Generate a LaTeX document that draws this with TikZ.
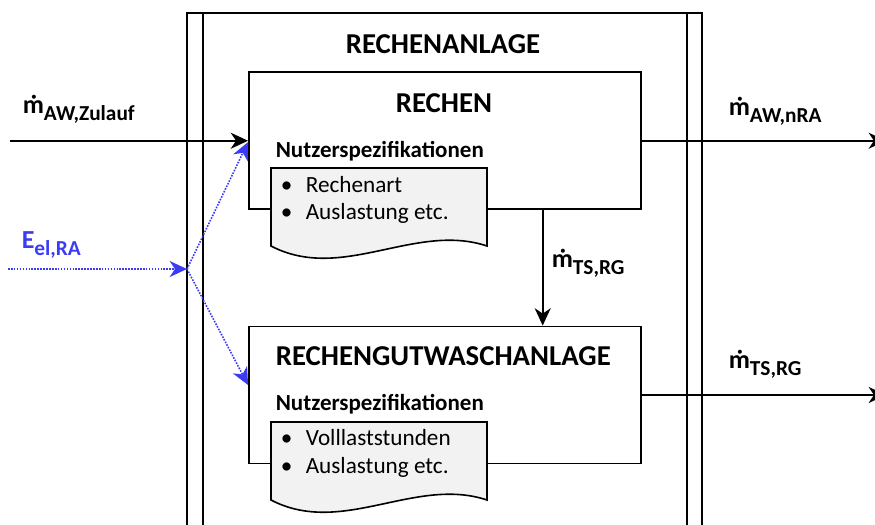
\documentclass[tikz,border=0pt]{standalone}
\usepackage{fontspec}
\setmainfont{Carlito}
\usetikzlibrary{arrows.meta}
\definecolor{eblue}{RGB}{59,59,245}
\definecolor{docgray}{RGB}{242,242,242}
\newcommand\flowlabel[2]{{\fontsize{19.5}{20}\selectfont\bfseries #1\raisebox{-5.25pt}{\fontsize{16}{18}\selectfont #2}}}
\begin{document}
\begin{tikzpicture}[x=0.75pt,y=-0.75pt,
 line width=1.2pt,
 box/.style={draw, fill=white, line width=1.4pt, minimum width=294pt, minimum height=102.75pt, inner sep=0},
 flow/.style={-{Stealth[length=13pt,width=12pt,inset=4pt]}},
 eflow/.style={eblue, densely dotted, -{Stealth[length=13pt,width=12pt,inset=4pt]}},
 title/.style={font=\fontsize{21.6}{24}\selectfont\bfseries, anchor=base, inner sep=0},
 spec/.style={font=\fontsize{17.25}{20}\selectfont\bfseries, anchor=base west, inner sep=0},
 item/.style={font=\fontsize{17.4}{20}\selectfont, anchor=base west, inner sep=0},
 doc/.style={draw, fill=docgray, line width=1.2pt},
 lbl/.style={anchor=base west, inner sep=0}
]
\useasboundingbox (0,0) rectangle (875,525);
% outer unit
\node[draw, line width=1.4pt, minimum width=386.25pt, minimum height=399pt, inner sep=0] (anlage) at (444.5,279) {};
\draw[line width=1.4pt] ([xshift=12.75pt]anlage.north west) -- ([xshift=12.75pt]anlage.south west);
\draw[line width=1.4pt] ([xshift=-12pt]anlage.north east) -- ([xshift=-12pt]anlage.south east);
\node[title] (tanlage) at (443,53) {RECHENANLAGE};
% Rechen
\node[box] (rechen) at (445,140.75) {};
\node[title] (trechen) at (444,112) {RECHEN};
\node[spec] (s1) at (275,157) {Nutzerspezifikationen};
\draw[doc] (271,168) -- (487,168) -- (487,246) .. controls (415,222) and (342,283) .. (271,246) -- cycle;
\node[item] (b1a) at (280,192) {\textbullet};
\node[item] (i1a) at (305,192) {Rechenart};
\node[item] (b1b) at (280,219) {\textbullet};
\node[item] (i1b) at (305,219) {Auslastung etc.};
% Rechengutwaschanlage
\node[box] (gut) at (445,395) {};
\node[title, anchor=base west] (tgut) at (275,365) {RECHENGUTWASCHANLAGE};
\node[spec] (s2) at (275,410) {Nutzerspezifikationen};
\draw[doc] (271,422) -- (487,422) -- (487,500) .. controls (415,476) and (342,537) .. (271,500) -- cycle;
\node[item] (b2a) at (280,445) {\textbullet};
\node[item] (i2a) at (305,445) {Volllaststunden};
\node[item] (b2b) at (280,473) {\textbullet};
\node[item] (i2b) at (305,473) {Auslastung etc.};
% flows
\coordinate (zin) at (10,140.75);
\coordinate (aout) at (886,140.75);
\coordinate (tsout) at (886,395);
\coordinate (vx) at (542.7,0);
\draw[flow] (zin) -- (rechen.west);
\draw[flow] (rechen.east) -- (aout);
\draw[flow] (gut.east) -- (tsout);
\draw[flow] (rechen.south -| vx) -- (gut.north -| vx);
% energy
\coordinate (ein) at (8,269);
\coordinate (J) at (187,269);
\draw[eflow] (ein) -- (J);
\draw[eflow] (J) -- ([yshift=-1pt]rechen.west);
\draw[eflow] (J) -- ([yshift=7.5pt]gut.west);
% labels
\node[lbl] (lzu) at (22,113) {\flowlabel{ṁ}{AW,Zulauf}};
\node[lbl, text=eblue] (lel) at (21,248) {\flowlabel{E}{el,RA}};
\node[lbl] (lnra) at (728,115) {\flowlabel{ṁ}{AW,nRA}};
\node[lbl] (lts) at (728,368) {\flowlabel{ṁ}{TS,RG}};
\node[lbl] (ltsv) at (551,267) {\flowlabel{ṁ}{TS,RG}};
\end{tikzpicture}
\end{document}
